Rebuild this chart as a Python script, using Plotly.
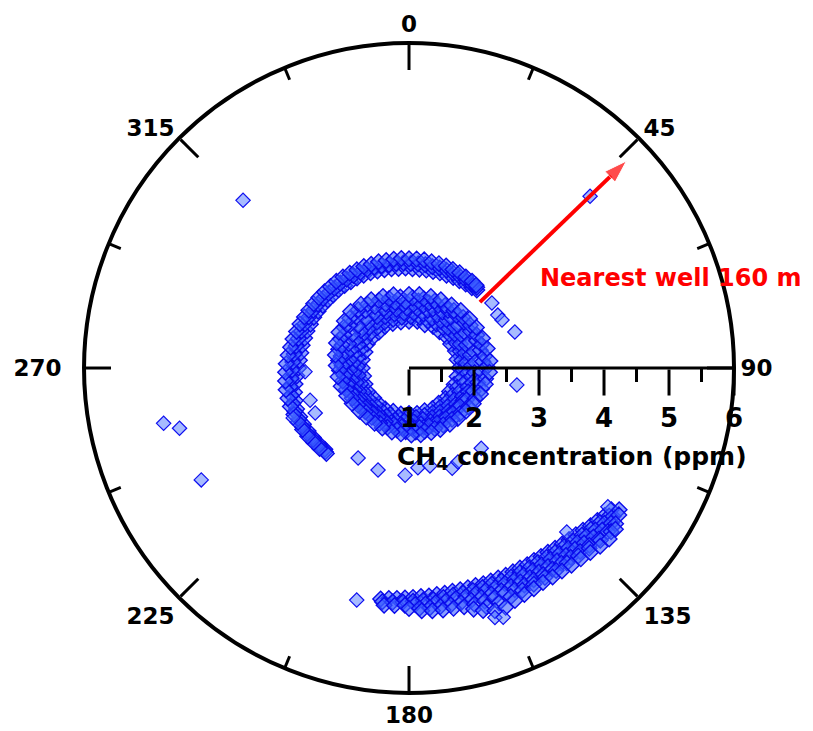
import math
import plotly.graph_objects as go

# ---------------- data ----------------
angle_tickvals = [0, 45, 90, 135, 180, 225, 270, 315]
angle_ticktext = ["0", "45", "90", "135", "180", "225", "270\u00a0\u00a0", "315"]
angle_minor = [22.5, 67.5, 112.5, 157.5, 202.5, 247.5, 292.5, 337.5]
radial_tickvals = [1, 2, 3, 4, 5, 6]
radial_minor = [1.5, 2.5, 3.5, 4.5, 5.5]

# inner ring (CH4 ~1.7-2.25 ppm, all directions)
ring1_theta = [0, 10, 20, 30, 40, 50, 60, 70, 80, 90, 100, 110, 120, 130, 140, 150, 160, 170,
               180, 190, 200, 210, 220, 230, 240, 250, 260, 270, 280, 290, 300, 310, 320, 330, 340, 350]
ring1_r = [1.72, 1.73, 1.71, 1.74, 1.73, 1.75, 1.74, 1.76, 1.75, 1.77, 1.75, 1.74, 1.72, 1.73, 1.71, 1.72, 1.70, 1.71,
           1.70, 1.72, 1.71, 1.73, 1.72, 1.71, 1.73, 1.72, 1.71, 1.72, 1.73, 1.72, 1.74, 1.73, 1.72, 1.74, 1.73, 1.72]
ring6_theta = [2, 12, 22, 32, 42, 52, 62, 72, 82, 92, 102, 112, 122, 132, 142, 152, 162, 172,
               182, 192, 202, 212, 222, 232, 242, 252, 262, 272, 282, 292, 302, 312, 322, 332, 342, 352]
ring6_r = [1.79, 1.80, 1.78, 1.80, 1.81, 1.81, 1.82, 1.83, 1.82, 1.83, 1.82, 1.80, 1.79, 1.78, 1.77, 1.78, 1.77, 1.77,
           1.76, 1.77, 1.77, 1.78, 1.77, 1.78, 1.79, 1.78, 1.79, 1.79, 1.80, 1.79, 1.81, 1.80, 1.79, 1.80, 1.79, 1.79]
ring2_theta = [5, 15, 25, 35, 45, 55, 65, 75, 85, 95, 105, 115, 125, 135, 145, 155, 165, 175,
               185, 195, 205, 215, 225, 235, 245, 255, 265, 275, 285, 295, 305, 315, 325, 335, 345, 355]
ring2_r = [1.85, 1.86, 1.84, 1.87, 1.86, 1.88, 1.87, 1.89, 1.88, 1.90, 1.88, 1.86, 1.85, 1.84, 1.83, 1.84, 1.82, 1.83,
           1.82, 1.83, 1.82, 1.84, 1.83, 1.84, 1.85, 1.84, 1.85, 1.86, 1.87, 1.86, 1.88, 1.87, 1.86, 1.87, 1.86, 1.85]
ring7_theta = [8, 18, 28, 38, 48, 58, 68, 78, 88, 98, 108, 118, 128, 138, 148, 158, 168, 178,
               188, 198, 208, 218, 228, 238, 248, 258, 268, 278, 288, 298, 308, 318, 328, 338, 348, 358]
ring7_r = [1.92, 1.93, 1.92, 1.94, 1.94, 1.95, 1.95, 1.96, 1.96, 1.97, 1.95, 1.93, 1.91, 1.90, 1.89, 1.89, 1.88, 1.88,
           1.88, 1.88, 1.87, 1.88, 1.88, 1.89, 1.90, 1.90, 1.91, 1.92, 1.93, 1.93, 1.94, 1.94, 1.93, 1.93, 1.92, 1.92]
ring3_theta = [4, 13, 22, 31, 40, 49, 58, 67, 76, 85, 94, 103, 112, 121, 130, 139, 148, 157, 166, 175,
               184, 193, 202, 211, 220, 229, 238, 247, 256, 265, 274, 283, 292, 301, 310, 319, 328, 337, 346, 355]
ring3_r = [1.98, 1.99, 1.98, 2.00, 2.01, 2.00, 2.02, 2.01, 2.03, 2.02, 2.01, 2.00, 1.98, 1.97, 1.96, 1.95, 1.95, 1.94, 1.94, 1.93,
           1.93, 1.92, 1.93, 1.92, 1.92, 1.93, 1.94, 1.95, 1.96, 1.97, 1.98, 1.99, 2.00, 2.01, 2.02, 2.01, 2.00, 1.99, 1.99, 1.98]
ring4_theta = [8, 17, 25, 34, 42, 51, 59, 68, 76, 85, 93, 102, 110, 119, 127, 136, 144, 153, 161, 170, 178,
               187, 195, 204, 212, 221, 229, 238, 246, 255, 263, 272, 280, 289, 297, 306, 314, 323, 331, 340, 348, 357]
ring4_r = [2.04, 2.05, 2.06, 2.07, 2.09, 2.10, 2.10, 2.12, 2.13, 2.14, 2.12, 2.08, 2.05, 2.01, 1.98, 1.97, 1.96, 1.95, 1.94, 1.93, 1.92,
           1.91, 1.90, 1.90, 1.89, 1.89, 1.91, 1.93, 1.96, 1.98, 2.00, 2.03, 2.06, 2.09, 2.12, 2.13, 2.13, 2.11, 2.08, 2.05, 2.03, 2.02]
ring8_theta = [12, 21, 30, 38, 47, 55, 64, 72, 81, 89, 98, 106, 115, 123, 132, 140, 149, 157, 166, 174, 183,
               191, 200, 208, 217, 225, 234, 242, 251, 259, 268, 276, 285, 293, 302, 310, 319, 327, 336, 344, 353, 3]
ring8_r = [2.09, 2.10, 2.11, 2.12, 2.14, 2.15, 2.16, 2.17, 2.18, 2.20, 2.19, 2.16, 2.12, 2.09, 2.05, 2.03, 2.02, 2.01, 2.00, 1.99, 1.98,
           1.97, 1.97, 1.96, 1.95, 1.95, 1.97, 1.99, 2.02, 2.04, 2.07, 2.09, 2.12, 2.15, 2.18, 2.19, 2.19, 2.17, 2.14, 2.11, 2.10, 2.08]
ring5_theta = [0, 8, 17, 25, 34, 42, 51, 59, 68, 76, 85, 93, 102, 110, 119, 127, 136, 144, 153, 161, 170,
               178, 187, 195, 204, 212, 221, 229, 238, 246, 255, 263, 272, 280, 289, 297, 306, 314, 323, 331, 340, 348]
ring5_r = [2.13, 2.14, 2.15, 2.16, 2.17, 2.19, 2.20, 2.21, 2.22, 2.24, 2.25, 2.24, 2.20, 2.17, 2.13, 2.10, 2.08, 2.07, 2.06, 2.05, 2.04,
           2.03, 2.02, 2.02, 2.01, 2.00, 2.00, 2.01, 2.03, 2.05, 2.08, 2.10, 2.12, 2.15, 2.18, 2.21, 2.23, 2.25, 2.23, 2.20, 2.17, 2.15]

# outer arc (~2.5-2.9 ppm, from ~225 through north to ~42 deg)
arc1_theta = [226, 230, 234, 238, 242, 246, 250, 254, 258, 262, 266, 270, 274, 278, 282, 286, 290, 294, 298, 302,
              306, 310, 314, 318, 322, 326, 330, 334, 338, 342, 346, 350, 354, 358, 2, 6, 10, 14, 18, 22, 26, 30, 34, 38, 41]
arc1_r = [2.80, 2.81, 2.82, 2.83, 2.84, 2.84, 2.84, 2.82, 2.80, 2.77, 2.73, 2.70, 2.69, 2.68, 2.68, 2.67, 2.67, 2.66, 2.66, 2.65,
          2.64, 2.63, 2.62, 2.62, 2.61, 2.60, 2.60, 2.59, 2.58, 2.57, 2.56, 2.55, 2.54, 2.54, 2.53, 2.53, 2.53, 2.53, 2.54, 2.54, 2.55, 2.55, 2.56, 2.57, 2.59]
arc3_theta = [225, 229, 233, 237, 241, 245, 249, 253, 257, 261, 265, 269, 273, 277, 281, 285, 289, 293, 297, 301,
              305, 309, 313, 317, 321, 325, 329, 333, 337, 341, 345, 349, 353, 357, 1, 5, 9, 13, 17, 21, 25, 29, 33, 37, 40]
arc3_r = [2.82, 2.83, 2.84, 2.86, 2.87, 2.87, 2.88, 2.87, 2.86, 2.85, 2.82, 2.80, 2.79, 2.78, 2.77, 2.76, 2.75, 2.74, 2.73, 2.72,
          2.71, 2.70, 2.69, 2.68, 2.68, 2.67, 2.66, 2.65, 2.65, 2.64, 2.63, 2.62, 2.62, 2.62, 2.61, 2.61, 2.61, 2.60, 2.61, 2.61, 2.61, 2.61, 2.61, 2.61, 2.62]
arc2_theta = [224, 228, 232, 236, 240, 244, 248, 252, 256, 260, 264, 268, 272, 276, 280, 284, 288, 292, 296, 300,
              304, 308, 312, 316, 320, 324, 328, 332, 336, 340, 344, 348, 352, 356, 0, 4, 8, 12, 16, 20, 24, 28, 32, 36, 39]
arc2_r = [2.83, 2.85, 2.86, 2.88, 2.89, 2.90, 2.91, 2.92, 2.92, 2.92, 2.91, 2.90, 2.89, 2.87, 2.85, 2.84, 2.82, 2.81, 2.79, 2.78,
          2.77, 2.76, 2.75, 2.74, 2.74, 2.73, 2.72, 2.71, 2.71, 2.70, 2.70, 2.69, 2.69, 2.69, 2.68, 2.68, 2.68, 2.67, 2.67, 2.67, 2.66, 2.66, 2.65, 2.65, 2.64]

# southern arc (~4.5-5.1 ppm, 124-187 deg)
south1_theta = [187, 185, 183, 181, 179, 177, 175, 173, 171, 169, 167, 165, 163, 161, 159, 157, 155, 153, 151, 149,
                147, 145, 143, 141, 139, 137, 135, 133, 131, 129, 127, 125]
south1_r = [4.58, 4.56, 4.55, 4.54, 4.53, 4.52, 4.52, 4.51, 4.51, 4.50, 4.50, 4.50, 4.50, 4.51, 4.51, 4.51, 4.52, 4.52, 4.52, 4.53,
            4.53, 4.54, 4.55, 4.57, 4.59, 4.61, 4.63, 4.66, 4.70, 4.73, 4.77, 4.80]
south5_theta = [186.5, 184, 181.5, 179, 176.5, 174, 171.5, 169, 166.5, 164, 161.5, 159, 156.5, 154, 151.5, 149, 146.5,
                144, 141.5, 139, 136.5, 134, 131.5, 129, 126.5]
south5_r = [4.62, 4.61, 4.60, 4.59, 4.58, 4.58, 4.57, 4.56, 4.56, 4.56, 4.56, 4.56, 4.57, 4.58, 4.58, 4.59, 4.59,
            4.60, 4.62, 4.64, 4.67, 4.70, 4.74, 4.78, 4.83]
south2_theta = [186, 183.5, 181, 178.5, 176, 173.5, 171, 168.5, 166, 163.5, 161, 158.5, 156, 153.5, 151, 148.5, 146,
                143.5, 141, 138.5, 136, 133.5, 131, 128.5, 126, 124]
south2_r = [4.67, 4.66, 4.65, 4.64, 4.64, 4.63, 4.63, 4.62, 4.62, 4.62, 4.62, 4.63, 4.63, 4.64, 4.64, 4.65, 4.65,
            4.66, 4.68, 4.70, 4.73, 4.76, 4.80, 4.84, 4.88, 4.90]
south6_theta = [180, 177.5, 175, 172.5, 170, 167.5, 165, 162.5, 160, 157.5, 155, 152.5, 150, 147.5, 145, 142.5,
                140, 137.5, 135, 132.5, 130, 127.5, 125]
south6_r = [4.70, 4.70, 4.70, 4.70, 4.70, 4.70, 4.70, 4.70, 4.70, 4.71, 4.71, 4.71, 4.72, 4.72, 4.73, 4.74,
            4.76, 4.78, 4.81, 4.85, 4.88, 4.92, 4.94]
south3_theta = [177, 174.5, 172, 169.5, 167, 164.5, 162, 159.5, 157, 154.5, 152, 149.5, 147, 144.5, 142, 139.5,
                137, 134.5, 132, 129.5, 127]
south3_r = [4.74, 4.75, 4.76, 4.76, 4.77, 4.77, 4.77, 4.77, 4.77, 4.78, 4.78, 4.78, 4.79, 4.80, 4.81, 4.83,
            4.86, 4.89, 4.93, 4.96, 4.98]
south7_theta = [165, 162, 159, 156, 153, 150, 147, 144, 141, 138, 135, 132, 129]
south7_r = [4.84, 4.86, 4.87, 4.85, 4.84, 4.84, 4.84, 4.85, 4.86, 4.89, 4.92, 4.96, 5.00]
south4_theta = [163, 160.5, 158, 155.5, 153, 150.5, 148, 145.5, 143, 140.5, 138, 135.5, 133, 130.5, 128]
south4_r = [4.90, 4.96, 4.97, 4.93, 4.91, 4.90, 4.89, 4.90, 4.91, 4.93, 4.95, 4.98, 5.02, 5.05, 5.03]

# isolated points
iso_theta = [315.3, 46.5, 257.3, 255.3, 241.7, 192.7, 209.5, 196.9, 182.1, 174.9, 167.9, 156.7, 152.5, 138.0,
             51.9, 59.2, 62.7, 71.2, 98.9, 136.1, 124.9, 161.0, 159.3, 252.0, 244.4, 268.0, 246.7]
iso_r = [4.63, 4.84, 4.87, 4.65, 4.63, 4.66, 2.59, 2.64, 2.65, 2.54, 2.54, 2.68, 2.63, 2.66,
         2.62, 2.59, 2.61, 2.72, 2.68, 4.50, 4.73, 5.06, 5.10, 2.60, 2.60, 2.60, 2.94]

# nearest-well arrow
well_arrow_r = [2.49, 5.62]
well_arrow_theta = [47.1, 46.4]
well_label = "Nearest well 160 m"

# ---------------- figure ----------------
R_MIN, R_MAX = 1, 6
FONT = "DejaVu Sans, Liberation Sans, Arial, sans-serif"

dense_style = dict(symbol="diamond", size=12, color="rgba(60,95,255,0.6)",
                   line=dict(color="rgb(10,10,235)", width=1.4))
single_style = dict(symbol="diamond", size=11, color="rgba(80,120,255,0.5)",
                    line=dict(color="rgb(15,15,240)", width=1.2))

fig = go.Figure()

clusters = [
    (ring1_theta, ring1_r), (ring6_theta, ring6_r), (ring2_theta, ring2_r), (ring7_theta, ring7_r),
    (ring3_theta, ring3_r), (ring4_theta, ring4_r), (ring8_theta, ring8_r), (ring5_theta, ring5_r),
    (arc1_theta, arc1_r), (arc3_theta, arc3_r), (arc2_theta, arc2_r),
    (south1_theta, south1_r), (south5_theta, south5_r), (south2_theta, south2_r), (south6_theta, south6_r),
    (south3_theta, south3_r), (south7_theta, south7_r), (south4_theta, south4_r),
]
for th, rr in clusters:
    fig.add_trace(go.Scatterpolar(r=rr, theta=th, mode="markers", marker=dense_style,
                                  hoverinfo="r+theta", cliponaxis=False))
fig.add_trace(go.Scatterpolar(r=iso_r, theta=iso_theta, mode="markers", marker=single_style,
                              hoverinfo="r+theta", cliponaxis=False))

# minor angular ticks (shorter, inside)
mt_r, mt_t = [], []
minor_len = 13 / 65.0
for a in angle_minor:
    mt_r += [R_MAX, R_MAX - minor_len, None]
    mt_t += [a, a, None]
fig.add_trace(go.Scatterpolar(r=mt_r, theta=mt_t, mode="lines",
                              line=dict(color="black", width=3), hoverinfo="skip", cliponaxis=False))

# minor radial ticks (hang below the radial axis at east)
rt_r, rt_t = [], []
drop = 14 / 65.0
for k in radial_minor:
    x = k - R_MIN
    d = math.hypot(x, drop)
    rt_r += [k, R_MIN + d, None]
    rt_t += [90, 90 + math.degrees(math.atan2(drop, x)), None]
fig.add_trace(go.Scatterpolar(r=rt_r, theta=rt_t, mode="lines",
                              line=dict(color="black", width=3), hoverinfo="skip", cliponaxis=False))

# arrow to the nearest well
fig.add_trace(go.Scatterpolar(r=well_arrow_r, theta=well_arrow_theta, mode="lines+markers",
                              line=dict(color="red", width=4),
                              marker=dict(symbol=["circle", "arrow"], size=[1, 24], color="red",
                                          angleref="previous"),
                              hoverinfo="skip", cliponaxis=False))

# The page body adds an 8px offset; the domain is set so the circle centre lands at (409, 368).
fig.update_layout(
    width=813, height=731,
    margin=dict(l=0, r=0, t=0, b=0),
    paper_bgcolor="white",
    showlegend=False,
    font=dict(family=FONT, color="black"),
    polar=dict(
        domain=dict(x=[0.0935, 0.8930], y=[0.0629, 0.9521]),
        bgcolor="white",
        angularaxis=dict(
            rotation=90, direction="clockwise",
            tickmode="array", tickvals=angle_tickvals, ticktext=angle_ticktext,
            ticks="inside", ticklen=25, tickwidth=3, tickcolor="black",
            showline=True, linecolor="black", linewidth=4,
            showgrid=False,
            tickfont=dict(family=FONT, size=23, color="black", weight="bold"),
        ),
        radialaxis=dict(
            range=[R_MIN, R_MAX], angle=0, side="clockwise",
            tickmode="array", tickvals=radial_tickvals,
            ticks="outside", ticklen=26, tickwidth=3, tickcolor="black",
            showline=True, linecolor="black", linewidth=3,
            showgrid=False,
            tickangle=0,
            tickfont=dict(family=FONT, size=26, color="black", weight="bold"),
        ),
    ),
    annotations=[
        dict(text="CH<sub>4</sub> concentration (ppm)", x=0.6937, y=0.3844, xref="paper", yref="paper",
             xanchor="center", yanchor="middle", showarrow=False,
             font=dict(family=FONT, size=25, color="black", weight="bold")),
        dict(text=well_label, x=0.6519, y=0.6306, xref="paper", yref="paper",
             xanchor="left", yanchor="middle", showarrow=False,
             font=dict(family=FONT, size=24, color="red", weight="bold")),
    ],
)

fig.write_html("out.html")
